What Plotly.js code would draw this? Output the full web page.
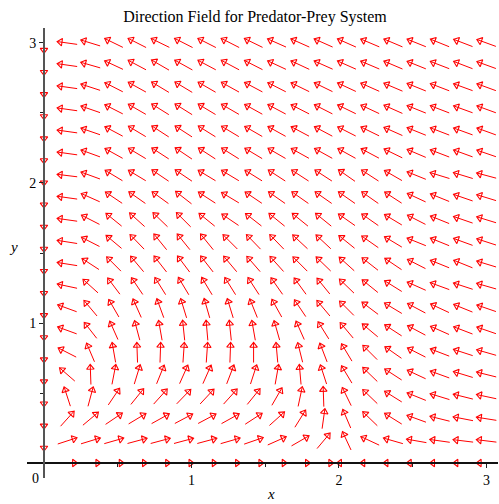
<!DOCTYPE html>
<html>
<head>
<meta charset="utf-8">
<script src="https://cdn.plot.ly/plotly-3.0.1.min.js"></script>
<style>html,body{margin:0;padding:0;background:#fff;}#chart{width:499px;height:504px;}</style>
</head>
<body>
<div id="chart"></div>
<script>
// Grid positions of the direction field (x and y share the same 20 values)
const gridX = [0, 0.158, 0.316, 0.474, 0.632, 0.789, 0.947, 1.105, 1.263, 1.421,
               1.579, 1.737, 1.895, 2.053, 2.211, 2.368, 2.526, 2.684, 2.842, 3.0];
const gridY = [0, 0.158, 0.316, 0.474, 0.632, 0.789, 0.947, 1.105, 1.263, 1.421,
               1.579, 1.737, 1.895, 2.053, 2.211, 2.368, 2.526, 2.684, 2.842, 3.0];

// Arrow direction (degrees, counter-clockwise from +x on screen),
// one array per row of the grid, bottom (y=0) to top (y=3). null = no arrow.
const row00 = [null, 0, 0, 0, 0, 0, 0, 0, 0, 0, 0, 0, 0, 180, 180, 180, 180, 180, 180, 180];
const row01 = [270, 18, 17, 16, 15, 15, 15, 15, 16, 19, 24, 30, 50, 115, 155, 164, 170, 172, 173, 173];
const row02 = [270, 48, 40, 34, 31, 29, 28, 28, 29, 33, 42, 58, 82, 113, 136, 148, 160, 166, 169, 171];
const row03 = [270, 108, 75, 56, 51, 48, 46, 47, 48, 51, 60, 78, 92, 116, 136, 148, 158, 163, 166, 168];
const row04 = [270, 139, 92, 79, 73, 68, 66, 66, 69, 72, 80, 95, 108, 121, 136, 147, 155, 160, 163, 166];
const row05 = [270, 153, 113, 100, 92, 88, 86, 86, 88, 90, 95, 104, 111, 121, 135, 145, 153, 159, 162, 164];
const row06 = [270, 160, 128, 114, 105, 100, 96, 95, 96, 100, 106, 114, 122, 130, 140, 147, 152, 156, 159, 161];
const row07 = [270, 160, 130, 120, 114, 110, 107, 106, 107, 112, 119, 124, 130, 135, 143, 149, 152, 155, 158, 161];
const row08 = [270, 168, 138, 127, 124, 122, 121, 121, 122, 123, 125, 126, 129, 136, 141, 148, 156, 160, 162, 164];
const row09 = [270, 171, 147, 135, 130, 128, 127, 128, 130, 131, 132, 135, 136, 138, 142, 146, 153, 158, 158, 163];
const row10 = [270, 171, 153, 140, 134, 129, 129, 129, 135, 134, 134, 137, 137, 141, 145, 149, 158, 158, 160, 162];
const row11 = [270, 172, 153, 141, 138, 136, 135, 141, 146, 142, 141, 141, 141, 145, 145, 149, 153, 158, 161, 163];
const row12 = [270, 172, 156, 146, 145, 144, 142, 147, 149, 146, 145, 145, 145, 145, 145, 147, 155, 158, 161, 163];
const row13 = [270, 173, 160, 149, 149, 146, 146, 149, 149, 148, 147, 147, 147, 145, 147, 150, 158, 163, 163, 165];
const row14 = [270, 172, 160, 151, 149, 147, 146, 147, 148, 149, 150, 151, 151, 151, 152, 154, 157, 159, 160, 161];
const row15 = [270, 172, 161, 152, 149, 147, 147, 148, 149, 150, 151, 152, 152, 153, 154, 156, 158, 159, 160, 160];
const row16 = [270, 172, 161, 153, 150, 148, 148, 149, 150, 151, 152, 153, 153, 154, 155, 156, 158, 159, 160, 160];
const row17 = [270, 172, 162, 153, 151, 149, 149, 150, 151, 152, 153, 154, 154, 155, 156, 157, 158, 159, 160, 160];
const row18 = [270, 172, 164, 155, 152, 150, 151, 152, 152, 153, 155, 155, 156, 156, 157, 157, 158, 159, 159, 160];
const row19 = [270, 172, 163, 154, 153, 154, 153, 153, 153, 154, 156, 156, 156, 156, 157, 157, 158, 158, 159, 160];
const angleRows = [row00, row01, row02, row03, row04, row05, row06, row07, row08, row09,
                   row10, row11, row12, row13, row14, row15, row16, row17, row18, row19];

const xTicks = [1, 2, 3];
const yTicks = [1, 2, 3];
const minorTicks = [0.5, 1.5, 2.5];
const titleText = 'Direction Field for Predator-Prey System';

// ---- layout geometry ----
const W = 499, H = 504;
const M = {l: 27, r: 1, t: 28, b: 26};
const xr = [-0.115, 3.078], yr = [-0.107, 3.107];
const pw = W - M.l - M.r, ph = H - M.t - M.b;
const pxX = pw / (xr[1] - xr[0]);
const pxY = ph / (yr[1] - yr[0]);
const ARROW = 20;   // arrow length in pixels
const HEAD = 3;     // marker centre offset back from the tip

const shaftX = [], shaftY = [], headX = [], headY = [], headA = [];
angleRows.forEach((row, j) => {
  row.forEach((a, i) => {
    if (a === null) return;
    const r = a * Math.PI / 180;
    const cx = gridX[i], cy = gridY[j];
    const hx = (ARROW / 2) * Math.cos(r) / pxX;
    const hy = (ARROW / 2) * Math.sin(r) / pxY;
    shaftX.push(cx - hx, cx + hx, null);
    shaftY.push(cy - hy, cy + hy, null);
    headX.push(cx + hx - HEAD * Math.cos(r) / pxX);
    headY.push(cy + hy - HEAD * Math.sin(r) / pxY);
    headA.push(90 - a);
  });
});

const serif = 'Liberation Serif, Times New Roman, serif';

const traces = [
  {type: 'scatter', mode: 'lines', x: shaftX, y: shaftY, hoverinfo: 'skip',
   line: {color: '#ff0000', width: 1}, showlegend: false},
  {type: 'scatter', mode: 'markers', x: headX, y: headY, hoverinfo: 'skip',
   marker: {symbol: 'triangle-up-open', size: 6.5, color: '#ff0000', angle: headA, line: {width: 1.1}},
   showlegend: false}
];

const axisCommon = {
  showgrid: false, zeroline: false, showline: true,
  ticks: 'outside', ticklen: 4, tickwidth: 1, tickcolor: '#222',
  tickfont: {family: serif, size: 14, color: '#000'},
  anchor: 'free', layer: 'above traces', fixedrange: true
};

const layout = {
  width: W, height: H,
  margin: M,
  paper_bgcolor: '#fff', plot_bgcolor: '#fff',
  showlegend: false,
  title: {text: titleText, font: {family: serif, size: 16, color: '#000'},
          x: 0.511, xref: 'container', y: 0.968, yanchor: 'middle'},
  xaxis: Object.assign({}, axisCommon, {
    range: xr, tickvals: xTicks, ticktext: xTicks.map(String),
    position: (0 - yr[0]) / (yr[1] - yr[0]),
    linecolor: '#111', linewidth: 2,
    minor: {tickvals: minorTicks, ticks: 'outside', ticklen: 3, tickcolor: '#222'}
  }),
  yaxis: Object.assign({}, axisCommon, {
    range: yr, tickvals: yTicks, ticktext: yTicks.map(String),
    position: (0 - xr[0]) / (xr[1] - xr[0]),
    linecolor: '#555', linewidth: 2,
    minor: {tickvals: minorTicks, ticks: 'outside', ticklen: 3, tickcolor: '#222'}
  }),
  annotations: [
    {text: '0', x: 0, y: 0, xref: 'x', yref: 'y', showarrow: false,
     xanchor: 'right', yanchor: 'top', xshift: -3, yshift: -6,
     font: {family: serif, size: 14, color: '#000'}},
    {text: '<i>x</i>', x: (271 - M.l) / pw, y: -(494 - (H - M.b)) / ph, xref: 'paper', yref: 'paper',
     showarrow: false, xanchor: 'center', yanchor: 'middle',
     font: {family: serif, size: 15, color: '#000'}},
    {text: '<i>y</i>', x: (13 - M.l) / pw, y: 1.543, xref: 'paper', yref: 'y',
     showarrow: false, xanchor: 'center', yanchor: 'middle',
     font: {family: serif, size: 15, color: '#000'}}
  ]
};

Plotly.newPlot('chart', traces, layout, {displayModeBar: false, staticPlot: true});
</script>
</body>
</html>
